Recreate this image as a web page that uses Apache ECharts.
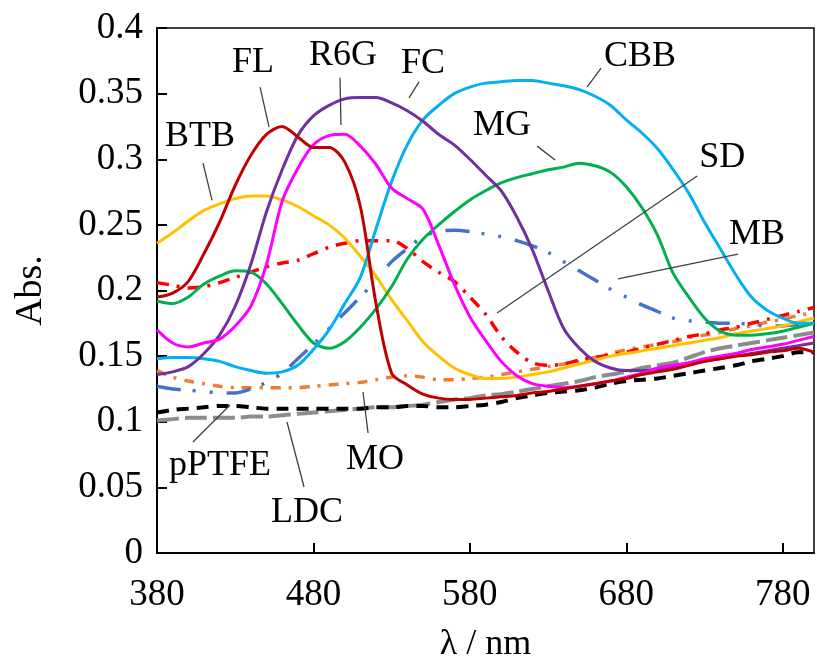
<!DOCTYPE html>
<html>
<head>
<meta charset="utf-8">
<script src="https://cdn.jsdelivr.net/npm/echarts@6/dist/echarts.min.js"></script>
<style>
  html, body { margin: 0; padding: 0; background: #fff; }
  #chart { width: 817px; height: 668px; }
</style>
</head>
<body>
<div id="chart"></div>
<script>
// wavelengths (nm), one value per 10 nm
const wavelengths = [];
for (let w = 380; w <= 800; w += 10) wavelengths.push(w);

const yTicks = [0, 0.05, 0.1, 0.15, 0.2, 0.25, 0.3, 0.35, 0.4];

// absorbance
const FL = [0.195,0.198,0.207,0.228,0.252,0.28,0.303,0.319,0.325,0.317,
  0.309,0.309,0.298,0.264,0.19,0.137,0.128,0.121,0.118,0.117,
  0.117,0.118,0.119,0.12,0.122,0.123,0.125,0.127,0.129,0.131,
  0.133,0.136,0.138,0.14,0.143,0.146,0.148,0.15,0.151,0.153,
  0.154,0.156,0.153];
const R6G = [0.17,0.16,0.157,0.16,0.163,0.173,0.188,0.22,0.268,0.293,
  0.311,0.318,0.319,0.31,0.296,0.278,0.27,0.262,0.235,0.205,
  0.18,0.162,0.146,0.135,0.129,0.127,0.126,0.127,0.129,0.131,
  0.134,0.137,0.141,0.143,0.145,0.148,0.15,0.152,0.155,0.157,
  0.159,0.162,0.165];
const FC = [0.136,0.138,0.142,0.152,0.166,0.188,0.22,0.26,0.292,0.318,
  0.333,0.341,0.346,0.347,0.347,0.343,0.337,0.329,0.319,0.311,
  0.3,0.288,0.276,0.256,0.231,0.2,0.171,0.156,0.146,0.141,
  0.139,0.139,0.14,0.142,0.144,0.146,0.148,0.15,0.152,0.154,
  0.156,0.158,0.16];
const CBB = [0.148,0.149,0.149,0.148,0.146,0.142,0.139,0.137,0.138,0.143,
  0.155,0.17,0.19,0.21,0.247,0.283,0.311,0.33,0.341,0.35,
  0.355,0.358,0.359,0.36,0.36,0.358,0.356,0.353,0.348,0.341,
  0.33,0.32,0.308,0.292,0.274,0.252,0.232,0.212,0.195,0.185,
  0.179,0.175,0.175];
const MG = [0.192,0.19,0.195,0.205,0.211,0.215,0.214,0.205,0.19,0.174,
  0.16,0.156,0.161,0.172,0.186,0.203,0.224,0.239,0.25,0.26,
  0.269,0.276,0.282,0.286,0.289,0.292,0.294,0.297,0.295,0.29,
  0.279,0.263,0.242,0.213,0.195,0.179,0.169,0.166,0.166,0.167,
  0.169,0.172,0.175];
const BTB = [0.236,0.244,0.253,0.261,0.266,0.27,0.272,0.272,0.269,0.264,
  0.257,0.25,0.24,0.226,0.211,0.193,0.177,0.161,0.15,0.141,
  0.136,0.133,0.133,0.134,0.136,0.138,0.141,0.144,0.147,0.15,
  0.152,0.154,0.156,0.158,0.16,0.162,0.164,0.167,0.169,0.171,
  0.173,0.176,0.179];
const SD = [0.206,0.204,0.202,0.203,0.206,0.21,0.214,0.218,0.221,0.223,
  0.228,0.233,0.236,0.238,0.238,0.238,0.232,0.222,0.214,0.207,
  0.195,0.182,0.165,0.153,0.145,0.143,0.144,0.147,0.149,0.151,
  0.153,0.156,0.159,0.162,0.165,0.167,0.17,0.172,0.175,0.178,
  0.181,0.184,0.187];
const MB = [0.127,0.125,0.124,0.123,0.122,0.122,0.125,0.13,0.137,0.148,
  0.159,0.171,0.183,0.195,0.208,0.222,0.232,0.241,0.245,0.246,
  0.245,0.243,0.241,0.238,0.234,0.229,0.222,0.215,0.208,0.201,
  0.195,0.189,0.184,0.179,0.177,0.176,0.175,0.175,0.174,0.173,
  0.173,0.174,0.175];
const MO = [0.139,0.134,0.131,0.129,0.127,0.126,0.126,0.126,0.126,0.126,
  0.127,0.128,0.129,0.13,0.132,0.134,0.135,0.134,0.132,0.132,
  0.133,0.134,0.136,0.138,0.14,0.142,0.144,0.146,0.149,0.152,
  0.155,0.157,0.159,0.161,0.164,0.166,0.168,0.171,0.173,0.176,
  0.178,0.181,0.183];
const pPTFE = [0.107,0.109,0.11,0.111,0.112,0.112,0.111,0.11,0.11,0.11,
  0.11,0.11,0.11,0.11,0.111,0.111,0.112,0.112,0.111,0.111,
  0.112,0.113,0.115,0.118,0.12,0.122,0.123,0.124,0.126,0.129,
  0.131,0.132,0.133,0.135,0.137,0.139,0.141,0.143,0.146,0.148,
  0.15,0.153,0.153];
const LDC = [0.101,0.102,0.103,0.103,0.103,0.103,0.104,0.104,0.105,0.106,
  0.107,0.108,0.109,0.11,0.111,0.111,0.112,0.113,0.115,0.117,
  0.118,0.12,0.121,0.123,0.125,0.127,0.129,0.131,0.134,0.136,
  0.138,0.141,0.143,0.145,0.149,0.153,0.156,0.158,0.16,0.162,
  0.164,0.166,0.168];

// callouts: text position and leader line, in data units (nm, Abs.)
const callouts = [
  { text: 'FL',    at: [441.4, 0.374], from: [445.9, 0.355], to: [451.6, 0.3246] },
  { text: 'R6G',   at: [498.9, 0.379], from: [497.0, 0.362], to: [497.6, 0.3261] },
  { text: 'FC',    at: [550.0, 0.373], from: [547.5, 0.3589], to: [541.1, 0.3467] },
  { text: 'BTB',   at: [407.5, 0.317], from: [409.4, 0.2971], to: [415.2, 0.2686] },
  { text: 'MG',    at: [600.6, 0.326], from: [623.0, 0.310], to: [634.5, 0.2994] },
  { text: 'CBB',   at: [688.8, 0.378], from: [663.9, 0.3695], to: [654.9, 0.355] },
  { text: 'SD',    at: [741.3, 0.301], from: [725.3, 0.2872], to: [597.4, 0.1829] },
  { text: 'MB',    at: [763.6, 0.2423], from: [751.4, 0.2278], to: [674.7, 0.2088] },
  { text: 'MO',    at: [519.4, 0.0709], from: [514.9, 0.0914], to: [511.7, 0.1227] },
  { text: 'pPTFE', at: [420.3, 0.067], from: [403.0, 0.0846], to: [426.7, 0.1128] },
  { text: 'LDC',   at: [475.9, 0.0312], from: [474.0, 0.0503], to: [463.1, 0.0998] }
];

const FONT = 'Liberation Serif';

function line(name, values, color, type, width) {
  return {
    name: name,
    type: 'line',
    data: wavelengths.map((w, i) => [w, values[i]]),
    showSymbol: false,
    smooth: 0.3,
    lineStyle: { color: color, width: width || 3, type: type || 'solid' },
    emphasis: { disabled: true }
  };
}

var dom = document.getElementById('chart');
var myChart = echarts.init(dom, null, { renderer: 'canvas' });

const option = {
  animation: false,
  textStyle: { fontFamily: FONT },
  grid: {
    left: 157, right: 3, top: 28, bottom: 115,
    containLabel: false,
    outerBoundsMode: 'none',
    show: true, borderColor: '#000', borderWidth: 1.5
  },
  xAxis: {
    type: 'value',
    min: 380, max: 800, interval: 100,
    name: 'λ / nm',
    nameLocation: 'middle',
    nameGap: 74,
    nameTextStyle: { fontFamily: FONT, fontSize: 36, color: '#000' },
    axisLine: { show: true, lineStyle: { color: '#000', width: 2 } },
    axisTick: { show: true, inside: true, length: 10, lineStyle: { color: '#000', width: 2 } },
    axisLabel: { fontFamily: FONT, fontSize: 37, color: '#000', margin: 24, showMaxLabel: false },
    splitLine: { show: false }
  },
  yAxis: {
    type: 'value',
    min: yTicks[0], max: yTicks[yTicks.length - 1], interval: 0.05,
    name: 'Abs.',
    nameLocation: 'middle',
    nameRotate: 90,
    nameGap: 107,
    nameTextStyle: { fontFamily: FONT, fontSize: 38, color: '#000' },
    axisLine: { show: true, lineStyle: { color: '#000', width: 2 } },
    axisTick: { show: true, inside: true, length: 10, lineStyle: { color: '#000', width: 2 } },
    axisLabel: { fontFamily: FONT, fontSize: 37, color: '#000', margin: 14 },
    splitLine: { show: false }
  },
  series: [
    line('LDC', LDC, '#8c8c8c', [22, 6], 4),
    line('pPTFE', pPTFE, '#000000', [12, 8], 4),
    line('MO', MO, '#ED7D31', [10, 8, 3, 8], 3.5),
    line('MB', MB, '#4472C4', [24, 12, 3, 14, 3, 14], 3.5),
    line('SD', SD, '#FF0000', [12, 8, 3, 8], 3.5),
    line('BTB', BTB, '#FFC000'),
    line('MG', MG, '#00B050'),
    line('CBB', CBB, '#00B0F0'),
    line('FC', FC, '#7030A0'),
    line('R6G', R6G, '#FF00FF'),
    line('FL', FL, '#C00000')
  ]
};

myChart.setOption(option);

// place callout texts and leader lines through the axes' own scales
const graphics = [];
callouts.forEach(function (c) {
  const p = myChart.convertToPixel({ gridIndex: 0 }, c.at);
  const a = myChart.convertToPixel({ gridIndex: 0 }, c.from);
  const b = myChart.convertToPixel({ gridIndex: 0 }, c.to);
  graphics.push({
    type: 'line', silent: true, z: 50,
    shape: { x1: a[0], y1: a[1], x2: b[0], y2: b[1] },
    style: { stroke: '#404040', lineWidth: 1.3 }
  });
  graphics.push({
    type: 'text', silent: true, z: 51,
    x: p[0], y: p[1],
    style: {
      text: c.text, fill: '#000', font: '36px "' + FONT + '"',
      align: 'center', verticalAlign: 'middle'
    }
  });
});
myChart.setOption({ graphic: graphics });

window.addEventListener('resize', myChart.resize);
</script>
</body>
</html>
